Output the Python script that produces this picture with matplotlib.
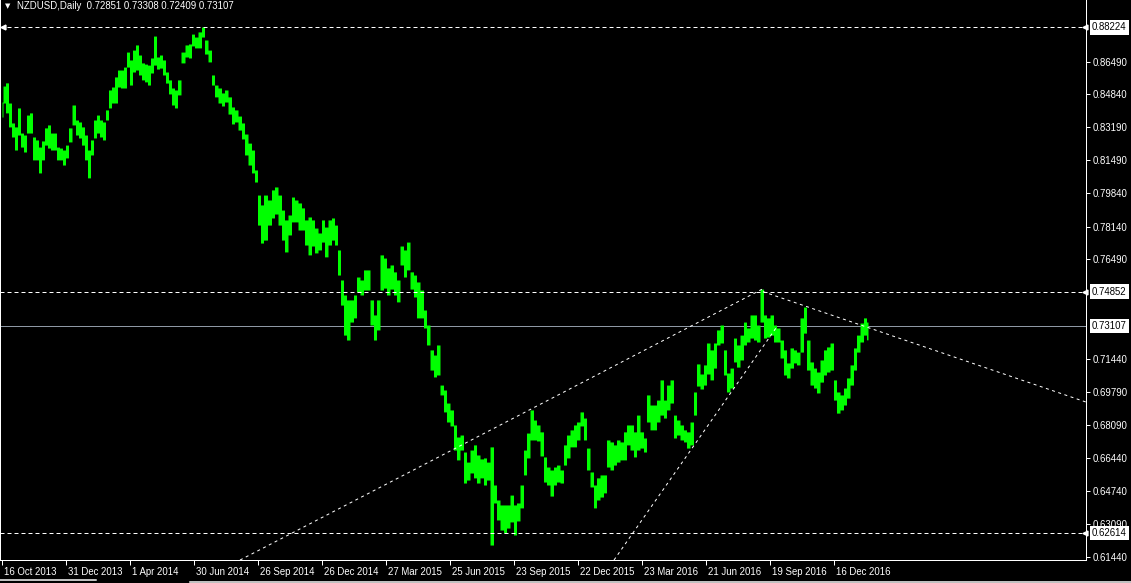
import matplotlib
matplotlib.use("Agg")
import matplotlib.pyplot as plt
from matplotlib import transforms
from matplotlib.lines import Line2D

plt.rcParams['font.family'] = ['Liberation Sans', 'DejaVu Sans']
plt.rcParams['lines.scale_dashes'] = False

# ---------------- data ----------------
symbol = "NZDUSD,Daily"
last_ohlc = [0.72851, 0.73308, 0.72409, 0.73107]

bars = [2, 4, 7, 10, 13, 16, 19, 22, 25, 28,
        31, 34, 37, 40, 43, 46, 49, 52, 55, 58,
        61, 64, 67, 70, 74, 77, 80, 83, 86, 89,
        92, 95, 98, 101, 104, 107, 110, 113, 116, 119,
        122, 125, 128, 131, 134, 137, 140, 143, 146, 149,
        152, 155, 158, 161, 164, 167, 170, 173, 176, 179,
        183, 187, 190, 193, 196, 200, 203, 206, 210, 213,
        216, 220, 223, 226, 230, 233, 236, 240, 243, 246,
        250, 253, 256, 259, 262, 265, 270, 273, 276, 280,
        283, 286, 290, 293, 296, 300, 303, 306, 310, 313,
        316, 320, 323, 326, 330, 333, 336, 339, 342, 345,
        348, 352, 355, 358, 362, 365, 368, 372, 375, 378,
        382, 385, 388, 392, 395, 398, 402, 405, 408, 412,
        415, 418, 422, 425, 428, 432, 435, 438, 442, 445,
        448, 452, 455, 458, 462, 465, 468, 472, 475, 478,
        482, 485, 488, 492, 495, 498, 502, 505, 508, 512,
        515, 518, 522, 525, 528, 532, 535, 538, 542, 545,
        548, 552, 555, 558, 562, 565, 568, 572, 575, 578,
        582, 585, 588, 592, 595, 598, 602, 605, 608, 612,
        615, 618, 622, 625, 628, 632, 635, 638, 642, 645,
        648, 652, 655, 658, 662, 665, 668, 672, 675, 678,
        682, 685, 688, 692, 695, 698, 702, 705, 708, 712,
        715, 718, 722, 725, 728, 732, 735, 738, 742, 745,
        748, 752, 755, 758, 762, 765, 768, 772, 775, 778,
        782, 785, 788, 792, 795, 798, 802, 805, 808, 812,
        815, 818, 822, 825, 828, 832, 835, 838, 842, 845,
        848, 852, 855, 858, 862, 865, 868]

highs = [0.8445, 0.8526, 0.8542, 0.8440, 0.8339, 0.8319, 0.8415, 0.8288, 0.8278, 0.8379,
         0.8390, 0.8268, 0.8253, 0.8217, 0.8248, 0.8314, 0.8329, 0.8288, 0.8288, 0.8217,
         0.8212, 0.8202, 0.8227, 0.8314, 0.8430, 0.8354, 0.8344, 0.8319, 0.8278, 0.8202,
         0.8253, 0.8354, 0.8379, 0.8354, 0.8344, 0.8405, 0.8506, 0.8521, 0.8572, 0.8607,
         0.8607, 0.8622, 0.8698, 0.8658, 0.8708, 0.8734, 0.8683, 0.8643, 0.8637, 0.8632,
         0.8668, 0.8779, 0.8673, 0.8683, 0.8658, 0.8597, 0.8557, 0.8516, 0.8506, 0.8557,
         0.8698, 0.8734, 0.8739, 0.8789, 0.8774, 0.8800, 0.8825, 0.8759, 0.8708, 0.8582,
         0.8531, 0.8516, 0.8491, 0.8506, 0.8471, 0.8420, 0.8405, 0.8374, 0.8339, 0.8283,
         0.8237, 0.8202, 0.8101, 0.7974, 0.7924, 0.7974, 0.7949, 0.8000, 0.8015, 0.7974,
         0.7898, 0.7848, 0.7873, 0.7964, 0.7949, 0.7934, 0.7909, 0.7848, 0.7863, 0.7848,
         0.7807, 0.7782, 0.7848, 0.7812, 0.7848, 0.7858, 0.7822, 0.7696, 0.7544, 0.7468,
         0.7443, 0.7443, 0.7468, 0.7559, 0.7544, 0.7595, 0.7595, 0.7443, 0.7367, 0.7443,
         0.7671, 0.7655, 0.7605, 0.7620, 0.7585, 0.7544, 0.7716, 0.7696, 0.7736, 0.7585,
         0.7569, 0.7534, 0.7493, 0.7392, 0.7316, 0.7190, 0.7164, 0.7215, 0.7012, 0.6987,
         0.6921, 0.6886, 0.6810, 0.6749, 0.6759, 0.6673, 0.6622, 0.6683, 0.6709, 0.6658,
         0.6638, 0.6643, 0.6622, 0.6699, 0.6506, 0.6430, 0.6405, 0.6405, 0.6405, 0.6455,
         0.6405, 0.6415, 0.6506, 0.6683, 0.6769, 0.6886, 0.6835, 0.6810, 0.6775, 0.6648,
         0.6597, 0.6582, 0.6597, 0.6607, 0.6582, 0.6709, 0.6759, 0.6785, 0.6810, 0.6825,
         0.6876, 0.6845, 0.6693, 0.6572, 0.6506, 0.6542, 0.6557, 0.6557, 0.6734, 0.6724,
         0.6709, 0.6734, 0.6724, 0.6775, 0.6810, 0.6810, 0.6775, 0.6860, 0.6775, 0.6744,
         0.6962, 0.6911, 0.6911, 0.6936, 0.7038, 0.6936, 0.7012, 0.7038, 0.6860, 0.6835,
         0.6810, 0.6785, 0.6775, 0.6825, 0.6977, 0.7119, 0.7068, 0.7114, 0.7225, 0.7190,
         0.7225, 0.7291, 0.7316, 0.7190, 0.7073, 0.7098, 0.7250, 0.7215, 0.7265, 0.7331,
         0.7301, 0.7367, 0.7367, 0.7316, 0.7498, 0.7367, 0.7352, 0.7367, 0.7316, 0.7301,
         0.7240, 0.7190, 0.7124, 0.7200, 0.7190, 0.7179, 0.7352, 0.7407, 0.7240, 0.7129,
         0.7098, 0.7078, 0.7139, 0.7190, 0.7205, 0.7225, 0.7038, 0.6977, 0.6962, 0.6997,
         0.7048, 0.7114, 0.7200, 0.7265, 0.7326, 0.7352, 0.7331]

lows = [0.8369, 0.8440, 0.8390, 0.8319, 0.8268, 0.8202, 0.8278, 0.8217, 0.8192, 0.8288,
        0.8288, 0.8152, 0.8152, 0.8086, 0.8152, 0.8227, 0.8212, 0.8202, 0.8202, 0.8152,
        0.8152, 0.8126, 0.8162, 0.8243, 0.8329, 0.8278, 0.8263, 0.8227, 0.8152, 0.8061,
        0.8177, 0.8263, 0.8288, 0.8268, 0.8253, 0.8354, 0.8415, 0.8440, 0.8440, 0.8521,
        0.8516, 0.8516, 0.8622, 0.8531, 0.8597, 0.8607, 0.8582, 0.8557, 0.8547, 0.8531,
        0.8592, 0.8632, 0.8612, 0.8617, 0.8582, 0.8541, 0.8486, 0.8430, 0.8415, 0.8481,
        0.8643, 0.8673, 0.8668, 0.8729, 0.8719, 0.8719, 0.8774, 0.8688, 0.8648, 0.8531,
        0.8471, 0.8440, 0.8425, 0.8445, 0.8384, 0.8334, 0.8344, 0.8303, 0.8258, 0.8177,
        0.8126, 0.8086, 0.8040, 0.7822, 0.7731, 0.7746, 0.7822, 0.7858, 0.7878, 0.7822,
        0.7746, 0.7686, 0.7772, 0.7838, 0.7838, 0.7797, 0.7797, 0.7721, 0.7671, 0.7716,
        0.7681, 0.7696, 0.7736, 0.7661, 0.7721, 0.7746, 0.7721, 0.7569, 0.7417, 0.7265,
        0.7240, 0.7331, 0.7352, 0.7483, 0.7468, 0.7493, 0.7493, 0.7316, 0.7240, 0.7291,
        0.7493, 0.7503, 0.7468, 0.7498, 0.7468, 0.7433, 0.7620, 0.7559, 0.7595, 0.7498,
        0.7458, 0.7352, 0.7352, 0.7301, 0.7215, 0.7088, 0.7053, 0.7063, 0.6962, 0.6876,
        0.6825, 0.6805, 0.6683, 0.6633, 0.6683, 0.6516, 0.6531, 0.6567, 0.6542, 0.6516,
        0.6542, 0.6506, 0.6531, 0.6202, 0.6415, 0.6329, 0.6278, 0.6263, 0.6288, 0.6319,
        0.6253, 0.6324, 0.6390, 0.6557, 0.6643, 0.6734, 0.6734, 0.6729, 0.6653, 0.6521,
        0.6506, 0.6450, 0.6506, 0.6521, 0.6516, 0.6607, 0.6643, 0.6699, 0.6699, 0.6734,
        0.6805, 0.6734, 0.6582, 0.6496, 0.6390, 0.6430, 0.6445, 0.6466, 0.6597, 0.6582,
        0.6607, 0.6622, 0.6633, 0.6633, 0.6709, 0.6683, 0.6648, 0.6683, 0.6693, 0.6673,
        0.6825, 0.6785, 0.6785, 0.6825, 0.6860, 0.6845, 0.6886, 0.6921, 0.6744, 0.6759,
        0.6734, 0.6724, 0.6693, 0.6709, 0.6860, 0.7007, 0.6992, 0.7012, 0.7068, 0.7038,
        0.7098, 0.7215, 0.7225, 0.7063, 0.6977, 0.6997, 0.7129, 0.7103, 0.7139, 0.7215,
        0.7230, 0.7250, 0.7240, 0.7230, 0.7331, 0.7250, 0.7255, 0.7265, 0.7230, 0.7230,
        0.7149, 0.7063, 0.7048, 0.7098, 0.7124, 0.7114, 0.7179, 0.7275, 0.7088, 0.7012,
        0.6997, 0.6972, 0.7027, 0.7063, 0.7078, 0.7088, 0.6936, 0.6870, 0.6886, 0.6911,
        0.6946, 0.7012, 0.7088, 0.7179, 0.7230, 0.7265, 0.7241]

xtick_bars = [2, 66, 130, 194, 258, 322, 386, 450, 514, 578, 642, 706, 770, 834]
xtick_labels = ["16 Oct 2013", "31 Dec 2013", "1 Apr 2014", "30 Jun 2014", "26 Sep 2014",
                "26 Dec 2014", "27 Mar 2015", "25 Jun 2015", "23 Sep 2015", "22 Dec 2015",
                "23 Mar 2016", "21 Jun 2016", "19 Sep 2016", "16 Dec 2016"]
ytick_values = [0.86490, 0.84840, 0.83190, 0.81490, 0.79840, 0.78140, 0.76490,
                0.71440, 0.69790, 0.68090, 0.66440, 0.64740, 0.63090, 0.61440]

hlevels = [0.88224, 0.74852, 0.62614]
bid_level = 0.73107

trend_bars = [[240, 765], [614, 776], [763, 1086]]
trend_prices = [[0.6126, 0.7505], [0.6126, 0.7301], [0.7485, 0.6926]]

price_min, price_max = 0.61263, 0.89616
bar_max = 1086

# ---------------- figure ----------------
W, H = 1131, 583
PX = 0.72  # points per pixel at dpi 100
FS = 6.9
fig = plt.figure(figsize=(W / 100, H / 100), dpi=100, facecolor='black')
ax = fig.add_axes([0, 23 / H, 1086 / W, 560 / H])
ax.set_facecolor('black')
ax.set_xlim(0, bar_max)
ax.set_ylim(price_min, price_max)

# price bars (high-low range of each bar group)
ax.fill_between(bars, lows, highs, step='mid', color='#00ff00', linewidth=0,
                antialiased=False, zorder=3)

# horizontal levels
for lv in hlevels:
    ax.axhline(lv, color='white', lw=PX, ls=(0, (4 * PX, 3 * PX)), zorder=4)
ax.axhline(bid_level, color='#8e98a4', lw=PX, zorder=2)

# trend lines
for tb, tp in zip(trend_bars, trend_prices):
    ax.plot(tb, tp, color='white', lw=PX, ls=(0, (3 * PX, 3.5 * PX)), zorder=4)

# spines
for s in ['left', 'bottom', 'right']:
    ax.spines[s].set_color('white')
    ax.spines[s].set_linewidth(PX)
ax.spines['top'].set_visible(False)

# y axis on the right
ax.yaxis.tick_right()
ax.set_yticks(ytick_values)
ax.set_yticklabels(['%.5f' % v for v in ytick_values])
ax.tick_params(axis='y', colors='white', length=4 * PX, width=PX, pad=2, labelsize=FS)

# x axis
ax.set_xticks(xtick_bars)
ax.set_xticklabels(xtick_labels)
ax.tick_params(axis='x', colors='white', length=5 * PX, width=PX, pad=1.5, labelsize=FS)
off = transforms.ScaledTranslation(2 / 100, 0, fig.dpi_scale_trans)
for lab in ax.get_xticklabels():
    lab.set_horizontalalignment('left')
    lab.set_transform(lab.get_transform() + off)

# price label boxes
trans = transforms.blended_transform_factory(ax.transAxes, ax.transData)
for lv in hlevels + [bid_level]:
    ax.text(1.0 + 6 / 1086, lv, '%.5f' % lv, transform=trans, ha='left', va='center',
            color='black', fontsize=FS, clip_on=False, zorder=6,
            bbox=dict(boxstyle='square,pad=0.22', fc='white', ec='none'))
for lv in hlevels:
    ax.plot([1.0 - 1.5 / 1086], [lv], transform=trans, marker='<', ms=3.5,
            color='white', clip_on=False, zorder=6)
ax.plot([3], [hlevels[0]], marker='<', ms=3.5, color='white', zorder=6)

# header
fig.text(8 / W, 1 - 6 / H, '\u25bc', color='white', fontsize=5, ha='center', va='center',
         family='DejaVu Sans')
fig.text(17 / W, 1 - 6 / H,
         symbol + '  ' + ' '.join('%.5f' % v for v in last_ohlc),
         color='white', fontsize=FS, ha='left', va='center')

# bottom tab strip lines
fig.add_artist(Line2D([0, 96 / W], [1 - 580 / H] * 2, color='white', lw=PX * 1.5))
fig.add_artist(Line2D([190 / W, 1], [1 - 582 / H] * 2, color='white', lw=PX * 1.5))

fig.savefig('out.png', dpi=100, facecolor='black')
